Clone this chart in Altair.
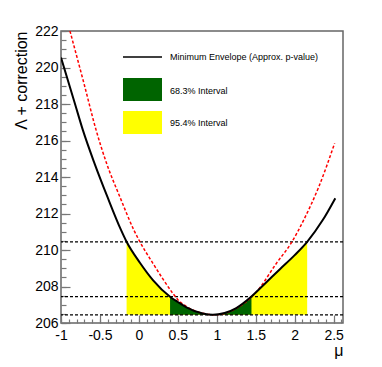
import altair as alt
import pandas as pd

# ---- data ----
# Minimum envelope (black solid)
env_mu = [-1.0, -0.82, -0.72, -0.57, -0.405, -0.23, -0.158, 0.013, 0.18, 0.40, 0.50,
          0.61, 0.82, 0.95, 1.10, 1.25, 1.445, 1.64, 1.81, 2.0, 2.16, 2.36, 2.52]
env_val = [220.55, 218.0, 216.58, 214.75, 212.92, 211.1, 210.45, 209.3, 208.35, 207.44, 207.15,
           206.86, 206.52, 206.45, 206.55, 206.82, 207.45, 208.25, 208.95, 209.72, 210.45, 211.64, 212.83]

# Red dashed curve
red_mu = [-0.885, -0.70, -0.55, -0.415, -0.245, -0.065, 0.0, 0.18, 0.31, 0.44, 0.50,
          0.61, 0.82, 0.97, 1.25, 1.47, 1.51, 1.765, 1.965, 2.115, 2.31, 2.513]
red_val = [222.0, 219.04, 216.58, 214.75, 212.92, 211.1, 210.55, 209.27, 208.4, 207.6, 207.28,
           206.9, 206.53, 206.45, 206.8, 207.53, 207.71, 209.27, 210.45, 211.64, 213.47, 215.85]

# Horizontal reference levels (minimum, +1, +4)
levels = [206.45, 207.45, 210.45]
base_level = 206.45
interval68 = [0.40, 1.445]
interval95 = [-0.158, 2.16]

x_major = [-1, -0.5, 0, 0.5, 1, 1.5, 2, 2.5]
x_minor = [round(-1 + 0.1 * i, 1) for i in range(37)]
y_major = [206, 208, 210, 212, 214, 216, 218, 220, 222]
y_minor = [206 + 0.5 * i for i in range(33)]

legend_labels = ["Minimum Envelope (Approx. p-value)", "68.3% Interval", "95.4% Interval"]

FONT = "Liberation Sans"

env_df = pd.DataFrame({"mu": env_mu, "val": env_val})
env_df["base"] = base_level
red_df = pd.DataFrame({"mu": red_mu, "val": red_val})
yel_df = env_df[(env_df.mu >= interval95[0]) & (env_df.mu <= interval95[1])]
grn_df = env_df[(env_df.mu >= interval68[0]) & (env_df.mu <= interval68[1])]
lev_df = pd.DataFrame({"level": levels})
one = pd.DataFrame({"a": [0]})

xs = alt.Scale(domain=[-1, 2.62], nice=False, zero=False)
ys = alt.Scale(domain=[206, 222], nice=False, zero=False)

tick_col = "#777777"

x_major_axis = alt.Axis(orient="bottom", values=x_major, tickSize=8, offset=-8, domain=False,
                        grid=False, tickColor=tick_col, tickWidth=1.2, labelPadding=5, labelFont=FONT,
                        labelFontSize=14, labelColor="black", labelOverlap=False, labelFlush=False,
                        labelExpr="'' + datum.value", title="μ", titleFont=FONT, titleFontSize=16,
                        titleFontWeight="normal", titleAnchor="end", titlePadding=0,
                        titleColor="black")
x_minor_axis = alt.Axis(orient="bottom", values=x_minor, tickSize=4, offset=-4, domain=False,
                        grid=False, tickColor=tick_col, tickWidth=1.2, labels=False, title=None)
y_major_axis = alt.Axis(orient="left", values=y_major, tickSize=9, offset=-9, domain=False,
                        grid=False, tickColor=tick_col, tickWidth=1.2, labelPadding=3, labelFont=FONT,
                        labelFontSize=14, labelColor="black", labelOverlap=False, labelFlush=False,
                        format="d", title="Λ + correction", titleFont=FONT, titleFontSize=16,
                        titleFontWeight="normal", titleAnchor="end", titlePadding=5,
                        titleColor="black")
y_minor_axis = alt.Axis(orient="left", values=y_minor, tickSize=5, offset=-5, domain=False,
                        grid=False, tickColor=tick_col, tickWidth=1.2, labels=False, title=None)

yellow = alt.Chart(yel_df).mark_area(color="#ffff00", interpolate="monotone").encode(
    x=alt.X("mu:Q", scale=xs, axis=x_major_axis),
    y=alt.Y("val:Q", scale=ys, axis=y_major_axis),
    y2="base:Q",
)
green = alt.Chart(grn_df).mark_area(color="#006400", interpolate="monotone").encode(
    x=alt.X("mu:Q", scale=xs, axis=x_minor_axis),
    y=alt.Y("val:Q", scale=ys, axis=y_minor_axis),
    y2="base:Q",
)
rules = alt.Chart(lev_df).mark_rule(color="black", strokeDash=[3, 2], strokeWidth=1.2).encode(
    y=alt.Y("level:Q", scale=ys, axis=None)
)
red = alt.Chart(red_df).mark_line(color="#ff0000", strokeDash=[3, 2], strokeWidth=1.5,
                                  interpolate="monotone", clip=True).encode(
    x=alt.X("mu:Q", scale=xs, axis=None),
    y=alt.Y("val:Q", scale=ys, axis=None),
)
black = alt.Chart(env_df).mark_line(color="black", strokeWidth=2, interpolate="monotone",
                                    clip=True).encode(
    x=alt.X("mu:Q", scale=xs, axis=None),
    y=alt.Y("val:Q", scale=ys, axis=None),
)

# legend (inside frame, top)
leg_line = alt.Chart(one).mark_rule(color="black", strokeWidth=1.5).encode(
    x=alt.value(62), x2=alt.value(101), y=alt.value(26))
leg_green = alt.Chart(one).mark_rect(color="#006400").encode(
    x=alt.value(62), x2=alt.value(101), y=alt.value(47), y2=alt.value(70))
leg_yellow = alt.Chart(one).mark_rect(color="#ffff00").encode(
    x=alt.value(62), x2=alt.value(101), y=alt.value(80), y2=alt.value(103))
leg_texts = [
    alt.Chart(one).mark_text(text=lab, align="left", baseline="middle", font=FONT,
                             fontSize=9, color="black").encode(x=alt.value(109), y=alt.value(yy))
    for lab, yy in zip(legend_labels, [26, 60, 92])
]

chart = alt.layer(yellow, green, rules, red, black, leg_line, leg_green, leg_yellow, *leg_texts).resolve_axis(
    x="independent", y="independent"
).properties(
    width=282, height=292,
    autosize=alt.AutoSizeParams(type="none"),
    padding={"left": 53, "top": 23, "right": 31, "bottom": 36},
    background="white",
).configure_view(stroke="#666666", strokeWidth=1.5)

chart.save("out.html", embed_options={"renderer": "svg", "actions": False})
